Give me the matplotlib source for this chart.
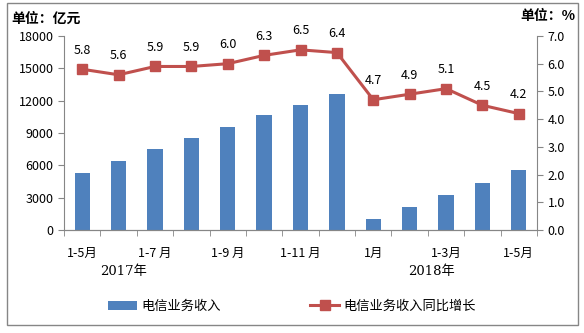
import matplotlib.pyplot as plt
from matplotlib.patches import Rectangle
import numpy as np

plt.rcParams['font.family'] = ['Noto Sans CJK SC', 'DejaVu Sans']

# 电信业务收入（亿元）与同比增长（%）
months = ["1-5月", "1-6月", "1-7 月", "1-8月", "1-9 月", "1-10月", "1-11 月", "1-12月",
          "1月", "1-2月", "1-3月", "1-4月", "1-5月"]
revenue = [5300, 6400, 7500, 8560, 9580, 10670, 11600, 12620, 1020, 2130, 3280, 4360, 5570]
growth = [5.8, 5.6, 5.9, 5.9, 6.0, 6.3, 6.5, 6.4, 4.7, 4.9, 5.1, 4.5, 4.2]
years = ["2017年", "2018年"]

bar_color = "#4F81BD"
line_color = "#C0504D"
axis_color = "#868686"

fig = plt.figure(figsize=(5.84, 3.33), dpi=100)
ax = fig.add_axes([0.1096, 0.309, 0.81, 0.583])
ax2 = ax.twinx()

x = np.arange(len(months))
bars = ax.bar(x, revenue, width=0.42, color=bar_color, label="电信业务收入", zorder=2)
line, = ax2.plot(x, growth, color=line_color, lw=2.2, marker="s", ms=6.5,
                 label="电信业务收入同比增长", zorder=3)
for xi, g in zip(x, growth):
    ax2.annotate(f"{g:.1f}", (xi, g), xytext=(0, 9), textcoords="offset points",
                 ha="center", va="bottom", fontsize=9)

ax.set_xlim(-0.5, len(months) - 0.5)
ax.set_ylim(0, 18000)
ax.set_yticks(range(0, 18001, 3000))
ax2.set_ylim(0, 7)
ax2.set_yticks(np.arange(0, 7.01, 1.0))
ax2.set_yticklabels([f"{v:.1f}" for v in np.arange(0, 7.01, 1.0)])

# 每隔一个月标注，刻度线放在类别之间
ax.set_xticks(x[::2])
ax.set_xticklabels(months[::2])
ax.set_xticks(np.arange(-0.5, len(months), 1), minor=True)
ax.tick_params(axis="x", which="major", length=0, pad=12, labelsize=9)
ax.tick_params(axis="x", which="minor", length=4, color=axis_color)
ax.tick_params(axis="y", length=4, color=axis_color, labelsize=9)
ax2.tick_params(axis="y", length=4, color=axis_color, labelsize=9)

for a in (ax, ax2):
    a.spines["top"].set_visible(False)
    a.spines["left"].set_color(axis_color)
    a.spines["right"].set_color(axis_color)
    a.spines["bottom"].set_color(axis_color)
ax.spines["right"].set_visible(False)
ax2.spines["left"].set_visible(False)

ax.text(1.15, -0.215, years[0], transform=ax.get_xaxis_transform(),
        ha="center", va="center", fontsize=9.5, family=["DejaVu Serif", "Noto Sans CJK SC"])
ax.text(9.6, -0.215, years[1], transform=ax.get_xaxis_transform(),
        ha="center", va="center", fontsize=9.5, family=["DejaVu Serif", "Noto Sans CJK SC"])

fig.text(0.02, 0.945, "单位：亿元", fontsize=10, fontweight="bold", ha="left", va="center")
fig.text(0.985, 0.953, "单位：%", fontsize=10, fontweight="bold", ha="right", va="center")

fig.legend(handles=[bars, line], loc="center", bbox_to_anchor=(0.5, 0.08), ncol=2,
           frameon=False, fontsize=9.5, columnspacing=6.8, handlelength=2.2,
           handletextpad=0.3)

fig.patches.append(Rectangle((0.012, 0.024), 0.978, 0.966, transform=fig.transFigure,
                             fill=False, edgecolor=axis_color, lw=1))

fig.savefig("out.png", dpi=100)
